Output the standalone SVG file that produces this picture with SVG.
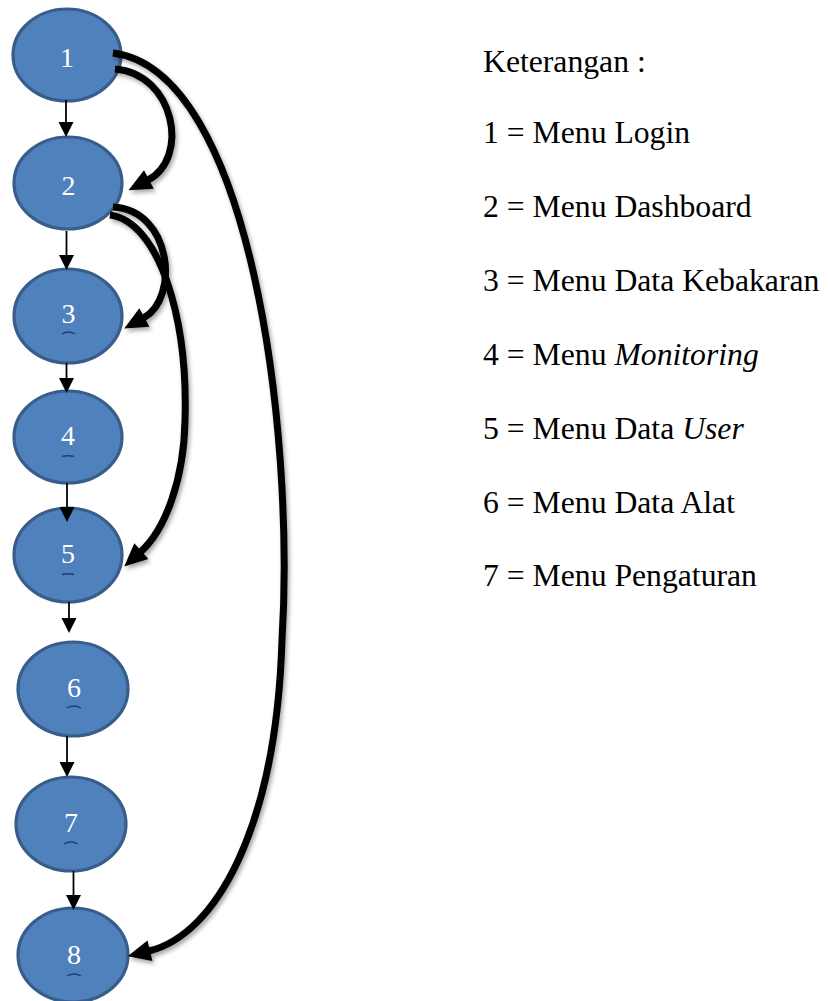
<svg xmlns="http://www.w3.org/2000/svg" width="829" height="1001" viewBox="0 0 829 1001">
  <style>
    .node ellipse { fill: #4F81BD; stroke: #385D8A; stroke-width: 3.2; }
    .node text { font-family: "Liberation Serif", "Times New Roman", serif; font-size: 28px; fill: #FFFFFF; text-anchor: middle; }
    .node .mark { fill: none; stroke: #1F3D7A; stroke-width: 1.3; }
    .flow { fill: none; stroke: #000000; stroke-width: 1.8; marker-end: url(#arrowSmall); }
    .jump { fill: none; stroke: #000000; stroke-width: 7; marker-end: url(#arrowBig); }
    .legend text { font-family: "Liberation Serif", "Times New Roman", serif; font-size: 31.7px; fill: #000000; }
  </style>
  <defs>
    <marker id="arrowSmall" markerUnits="userSpaceOnUse" markerWidth="20" markerHeight="20" refX="0" refY="0" orient="auto" overflow="visible">
      <path d="M0,-7.5 L15,0 L0,7.5 Z" fill="#000000"/>
    </marker>
    <marker id="arrowBig" markerUnits="userSpaceOnUse" markerWidth="30" markerHeight="30" refX="1" refY="0" orient="auto" overflow="visible">
      <path d="M0,-10.5 L23,0 L0,10.5 Z" fill="#000000"/>
    </marker>
    <filter id="shadow" x="-20%" y="-20%" width="140%" height="140%">
      <feDropShadow dx="2" dy="3" stdDeviation="2" flood-color="#000000" flood-opacity="0.35"/>
    </filter>
  </defs>

  <rect width="829" height="1001" fill="#FFFFFF"/>

  <!-- nodes -->
  <g id="node-1" class="node">
    <ellipse cx="67" cy="55" rx="54" ry="46"/>
    <text x="67" y="67">1</text>
  </g>
  <g id="node-2" class="node">
    <ellipse cx="68" cy="183" rx="54" ry="46"/>
    <text x="68.5" y="195">2</text>
  </g>
  <g id="node-3" class="node">
    <ellipse cx="68" cy="316" rx="54" ry="47"/>
    <text x="68.5" y="323">3</text>
    <path class="mark" d="M62,334 Q68.5,330 75,334"/>
  </g>
  <g id="node-4" class="node">
    <ellipse cx="68" cy="437" rx="54" ry="46"/>
    <text x="68" y="445">4</text>
    <path class="mark" d="M62,456.5 Q68,455 74,456.5"/>
  </g>
  <g id="node-5" class="node">
    <ellipse cx="68" cy="555" rx="54" ry="47"/>
    <text x="68" y="563">5</text>
    <path class="mark" d="M62,574.5 Q68,573 74,574.5"/>
  </g>
  <g id="node-6" class="node">
    <ellipse cx="73" cy="689" rx="55" ry="47"/>
    <text x="74" y="697">6</text>
    <path class="mark" d="M67,708 Q74,704 81,708"/>
  </g>
  <g id="node-7" class="node">
    <ellipse cx="71" cy="824" rx="55" ry="47"/>
    <text x="71" y="832">7</text>
    <path class="mark" d="M64,844 Q71,840 78,844"/>
  </g>
  <g id="node-8" class="node">
    <ellipse cx="73" cy="955" rx="55" ry="47"/>
    <text x="74" y="964">8</text>
    <path class="mark" d="M67,976 Q74,972 81,976"/>
  </g>

  <!-- connectors -->
  <g id="connectors">
    <path class="flow" d="M66,100 L66,122"/>
    <path class="flow" d="M66.5,231 L66.5,255"/>
    <path class="flow" d="M66.5,363 L66.5,378"/>
    <path class="flow" d="M67,483 L67,507"/>
    <path class="flow" d="M69,602 L69,618"/>
    <path class="flow" d="M67,736 L67,762"/>
    <path class="flow" d="M73.5,871 L73.5,895"/>
    <g filter="url(#shadow)">
      <path class="jump" d="M113,53 C250,70 295,430 282,640 C276,830 215,935 149,951"/>
      <path class="jump" d="M115,69 C175,74 190,158 148,180"/>
      <path class="jump" d="M113,207 C172,210 180,298 143.5,318"/>
      <path class="jump" d="M110,215 C160,222 188,320 185,420 C184,480 165,530 140.6,551.8"/>
    </g>
  </g>

  <!-- legend -->
  <g id="legend" class="legend">
    <text x="483" y="72">Keterangan :</text>
    <text x="483" y="143">1 = Menu Login</text>
    <text x="483" y="217">2 = Menu Dashboard</text>
    <text x="483" y="291">3 = Menu Data Kebakaran</text>
    <text x="483" y="365">4 = Menu <tspan font-style="italic">Monitoring</tspan></text>
    <text x="483" y="439">5 = Menu Data <tspan font-style="italic">User</tspan></text>
    <text x="483" y="513">6 = Menu Data Alat</text>
    <text x="483" y="586">7 = Menu Pengaturan</text>
  </g>
</svg>
